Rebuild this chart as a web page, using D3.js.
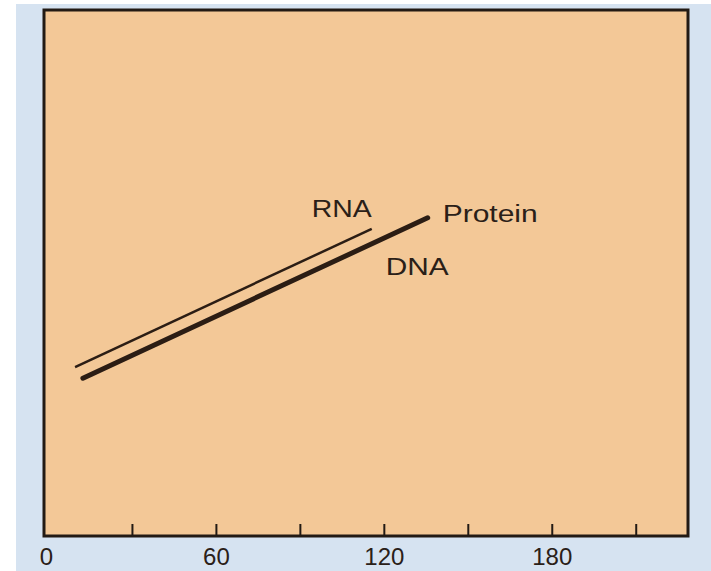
<html>
<head>
<script src='https://d3js.org/d3.v7.min.js'></script>
<style>
  body { margin: 0; background: #ffffff; }
  svg { display: block; }
  text { font-family: 'Liberation Sans', Arial, sans-serif; fill: #2a2018; }
</style>
</head>
<body>
<svg width=711 height=571></svg>
<script>

// data (x in minutes, y in arbitrary units)
var dnaX = [12.3, 135.5];
var dnaY = [30.0, 60.5];
var rnaX = [9.5, 115.5];
var rnaY = [32.1, 58.4];
var tickVals = [30, 60, 90, 120, 150, 180, 210];
var tickLabels = ["0", "60", "120", "180"];
var labelVals = [0, 60, 120, 180];

var svg = d3.select("svg");

// backgrounds
svg.append("rect").attr("x", 16).attr("y", 4).attr("width", 695).attr("height", 567)
  .attr("fill", "#d6e3f1");

var x = d3.scaleLinear().domain([-1.6, 228.5]).range([44, 688]);
var y = d3.scaleLinear().domain([0, 100]).range([536, 10]);

// plot area
svg.append("rect")
  .attr("x", x.range()[0]).attr("y", y.range()[1])
  .attr("width", x.range()[1] - x.range()[0])
  .attr("height", y.range()[0] - y.range()[1])
  .attr("fill", "#f3c897")
  .attr("stroke", "#221a14")
  .attr("stroke-width", 3);

// tick marks pointing up into the plot
svg.append("g").selectAll("line").data(tickVals).enter().append("line")
  .attr("x1", function(d) {return x(d);})
  .attr("x2", function(d) {return x(d);})
  .attr("y1", y(0))
  .attr("y2", y(0) - 12)
  .attr("stroke", "#221a14")
  .attr("stroke-width", 2);

// tick labels
svg.append("g").selectAll("text").data(labelVals).enter().append("text")
  .attr("x", function(d) {return d == 0 ? x(d) - 2 : x(d);})
  .attr("y", 565)
  .attr("text-anchor", "middle")
  .style("font-size", "24px")
  .text(function(d, i) {return tickLabels[i];});

// lines
var line = d3.line().x(function(d) {return x(d[0]);}).y(function(d) {return y(d[1]);});
var rna = d3.zip(rnaX, rnaY);
var dna = d3.zip(dnaX, dnaY);

svg.append("path").datum(rna).attr("d", line)
  .attr("fill", "none").attr("stroke", "#2b1d14").attr("stroke-width", 2.5);

svg.append("path").datum(dna).attr("d", line)
  .attr("fill", "none").attr("stroke", "#2b1d14").attr("stroke-width", 5)
  .attr("stroke-linecap", "round");

// labels
var dnaEnd = dna[dna.length - 1];
var rnaEnd = rna[rna.length - 1];

svg.append("text")
  .attr("x", x(rnaEnd[0]))
  .attr("y", y(rnaEnd[1]) - 12)
  .attr("text-anchor", "end")
  .attr("textLength", 60).attr("lengthAdjust", "spacingAndGlyphs")
  .style("font-size", "23px")
  .text("RNA");

svg.append("text")
  .attr("x", x(dnaEnd[0]) + 15)
  .attr("y", y(dnaEnd[1]) + 4)
  .attr("textLength", 95).attr("lengthAdjust", "spacingAndGlyphs")
  .style("font-size", "23px")
  .text("Protein");

svg.append("text")
  .attr("x", x(dnaEnd[0]) - 42)
  .attr("y", y(dnaEnd[1]) + 57)
  .attr("textLength", 63).attr("lengthAdjust", "spacingAndGlyphs")
  .style("font-size", "23px")
  .text("DNA");

</script>
</body>
</html>
